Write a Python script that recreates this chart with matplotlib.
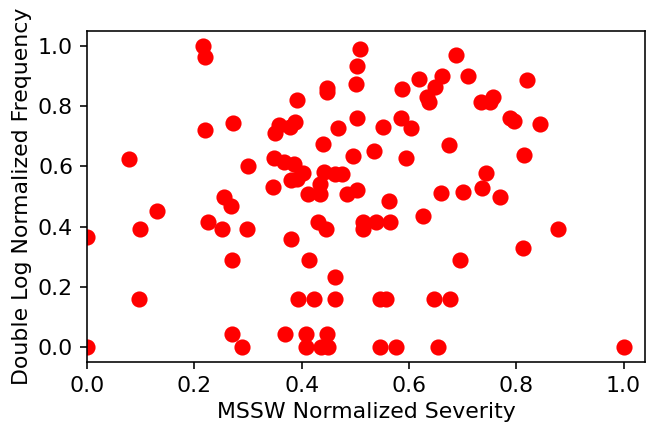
import matplotlib
matplotlib.use("Agg")
import matplotlib.pyplot as plt

# valores
severity = [0.0, 0.0, 0.079, 0.098, 0.096, 0.131, 0.217, 0.220, 0.220, 0.273,
            0.301, 0.350, 0.348, 0.346, 0.255, 0.226, 0.268, 0.251, 0.299, 0.271,
            0.271, 0.289, 0.369, 0.508, 0.504, 0.501, 0.448, 0.448, 0.391, 0.687,
            0.662, 0.618, 0.588, 0.649, 0.634, 0.638, 0.711, 0.504, 0.552, 0.585,
            0.603, 0.468, 0.439, 0.388, 0.378, 0.357, 0.675, 0.534, 0.495, 0.594,
            0.367, 0.385, 0.402, 0.391, 0.381, 0.441, 0.462, 0.475, 0.434, 0.412,
            0.434, 0.484, 0.503, 0.562, 0.659, 0.701, 0.626, 0.431, 0.446, 0.515,
            0.515, 0.539, 0.564, 0.381, 0.414, 0.695, 0.462, 0.394, 0.424, 0.463,
            0.546, 0.557, 0.646, 0.676, 0.408, 0.448, 0.408, 0.437, 0.450, 0.546,
            0.576, 0.655, 0.821, 0.734, 0.757, 0.751, 0.788, 0.795, 0.844, 0.815,
            0.744, 0.737, 0.770, 0.877, 0.812, 1.0]
frequency = [0.365, 0.0, 0.624, 0.393, 0.160, 0.452, 0.999, 0.963, 0.720, 0.745,
             0.600, 0.711, 0.629, 0.530, 0.498, 0.415, 0.468, 0.393, 0.393, 0.288,
             0.042, 0.0, 0.042, 0.991, 0.933, 0.873, 0.862, 0.848, 0.822, 0.969,
             0.900, 0.889, 0.857, 0.864, 0.830, 0.814, 0.901, 0.762, 0.731, 0.762,
             0.729, 0.726, 0.676, 0.748, 0.731, 0.737, 0.670, 0.651, 0.634, 0.629,
             0.615, 0.609, 0.578, 0.559, 0.554, 0.581, 0.576, 0.576, 0.540, 0.507,
             0.507, 0.507, 0.521, 0.485, 0.510, 0.516, 0.435, 0.415, 0.393, 0.415,
             0.393, 0.415, 0.415, 0.360, 0.288, 0.288, 0.233, 0.158, 0.158, 0.158,
             0.158, 0.158, 0.158, 0.158, 0.042, 0.042, 0.0, 0.0, 0.0, 0.0,
             0.0, 0.0, 0.888, 0.814, 0.831, 0.814, 0.762, 0.751, 0.740, 0.639,
             0.579, 0.528, 0.497, 0.393, 0.330, 0.0]

plt.rcParams["font.size"] = 11

fig = plt.figure(figsize=(646 / 144, 425 / 144), dpi=144)
ax = fig.add_axes([87 / 646, 1 - 362 / 425, 558 / 646, 331 / 425])

ax.scatter(severity, frequency, s=50, color="red")

ax.set_xlim(0, 1.04)
ax.set_ylim(-0.05, 1.05)
ax.set_xlabel("MSSW Normalized Severity", labelpad=3)
ax.set_ylabel("Double Log Normalized Frequency", labelpad=3)

fig.savefig("out.png", dpi=144)
